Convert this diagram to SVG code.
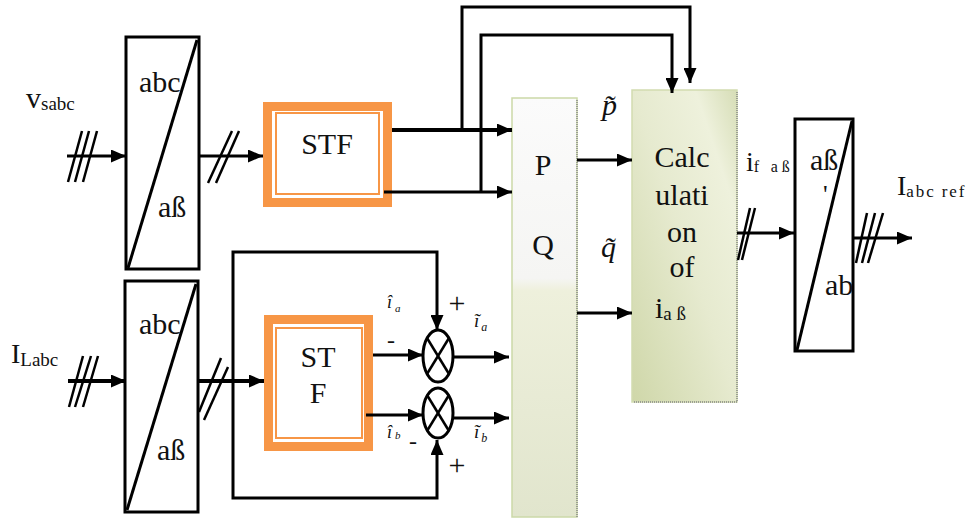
<svg xmlns="http://www.w3.org/2000/svg" width="969" height="519" viewBox="0 0 969 519">
<style>
.ln{stroke:#000;stroke-width:3;fill:none}
.th{stroke:#000;stroke-width:4;fill:none}
.sl{stroke:#000;stroke-width:2.5;fill:none}
.box{stroke:#000;stroke-width:3;fill:#fff}
.t{font-family:"Liberation Serif","Times New Roman",serif;fill:#111}
.big{font-size:30px}
.sub{font-size:19px}
.it{font-style:italic}
.or{fill:none;stroke:#f79646}
</style>
<defs>
<marker id="ar" markerUnits="userSpaceOnUse" markerWidth="15" markerHeight="13" refX="15" refY="6.5" orient="auto">
<path d="M0,0 L15,6.5 L0,13 z" fill="#000"/>
</marker>
<linearGradient id="gpq" x1="0" y1="0" x2="0" y2="1">
<stop offset="0" stop-color="#fbfbfb"/>
<stop offset="0.43" stop-color="#f5f5f3"/>
<stop offset="0.46" stop-color="#eef0dc"/>
<stop offset="1" stop-color="#e1e5cd"/>
</linearGradient>
<linearGradient id="gc" x1="0" y1="1" x2="1" y2="0">
<stop offset="0" stop-color="#cfd7a9"/>
<stop offset="0.5" stop-color="#e6eacf"/>
<stop offset="0.8" stop-color="#eef1dc"/>
<stop offset="1" stop-color="#d6ddb6"/>
</linearGradient>
</defs>

<g id="conv1">
<rect class="box" x="126" y="37" width="73" height="232"/>
<line class="ln" x1="197" y1="40" x2="128" y2="268"/>
<text class="t big" x="139" y="92">abc</text>
<text class="t big" x="158" y="217">aß</text>
</g>

<g id="conv2">
<rect class="box" x="125" y="281" width="73" height="231"/>
<line class="ln" x1="196" y1="284" x2="127" y2="510"/>
<text class="t big" x="139" y="334">abc</text>
<text class="t big" x="157" y="460">aß</text>
</g>

<g id="conv3">
<rect class="box" x="795" y="119" width="58" height="232"/>
<line class="ln" x1="852" y1="121" x2="797" y2="350"/>
<text class="t big" x="810" y="170">aß</text>
<text class="t" font-size="26" x="823" y="203">'</text>
<text class="t big" x="825" y="295">ab</text>
</g>

<g id="stf1">
<rect class="or" x="267.5" y="106.5" width="120" height="96" stroke-width="9" fill="#fff"/>
<rect class="or" x="276" y="113" width="103" height="81" stroke-width="2"/>
<text class="t big" x="327" y="154" text-anchor="middle">STF</text>
</g>

<g id="stf2">
<rect class="or" x="268.5" y="319.5" width="100" height="127" stroke-width="9" fill="#fff"/>
<rect class="or" x="276" y="328" width="86" height="110" stroke-width="2"/>
<text class="t big" x="318" y="367" text-anchor="middle">ST</text>
<text class="t big" x="318" y="403" text-anchor="middle">F</text>
</g>

<g id="pq">
<rect x="512" y="98" width="65" height="419" fill="url(#gpq)" stroke="#cbd9a8" stroke-width="1.5"/>
<line x1="577" y1="100" x2="577" y2="517" stroke="#888" stroke-width="1.5" stroke-dasharray="1,1"/>
<text class="t big" x="543" y="175" text-anchor="middle">P</text>
<text class="t big" x="543" y="255" text-anchor="middle">Q</text>
</g>

<g id="calc">
<rect x="632" y="90" width="105" height="312" fill="url(#gc)" stroke="#d2dcb0" stroke-width="1.5"/>
<path d="M737,92 V402 H634" fill="none" stroke="#888" stroke-width="1.5" stroke-dasharray="1,1"/>
<text class="t big" x="682" y="167" text-anchor="middle">Calc</text>
<text class="t big" x="682" y="205" text-anchor="middle">ulati</text>
<text class="t big" x="682" y="242" text-anchor="middle">on</text>
<text class="t big" x="682" y="277" text-anchor="middle">of</text>
<text class="t big" x="655" y="318">i<tspan class="sub" dy="2">a ß</tspan></text>
</g>

<g id="sum-a">
<ellipse cx="438" cy="356" rx="15" ry="26" fill="#fff" stroke="#000" stroke-width="3"/>
<line class="sl" x1="427" y1="338" x2="449" y2="374"/>
<line class="sl" x1="449" y1="338" x2="427" y2="374"/>
</g>

<g id="sum-b">
<ellipse cx="438" cy="413" rx="15" ry="25" fill="#fff" stroke="#000" stroke-width="3"/>
<line class="sl" x1="427" y1="395" x2="449" y2="431"/>
<line class="sl" x1="449" y1="395" x2="427" y2="431"/>
</g>

<g id="connectors">
<line class="ln" x1="67" y1="156" x2="126" y2="156" marker-end="url(#ar)"/>
<line class="ln" x1="199" y1="156" x2="263" y2="156" marker-end="url(#ar)"/>
<line class="th" x1="392" y1="130" x2="512" y2="130" marker-end="url(#ar)"/>
<line class="ln" x1="384" y1="192" x2="512" y2="192" marker-end="url(#ar)"/>
<polyline class="ln" points="462,130 462,7 690,7 690,83" marker-end="url(#ar)"/>
<polyline class="ln" points="481,192 481,35 672,35 672,93" marker-end="url(#ar)"/>
<line class="ln" x1="577" y1="160" x2="632" y2="160" marker-end="url(#ar)"/>
<line class="ln" x1="577" y1="313" x2="632" y2="313" marker-end="url(#ar)"/>
<line class="ln" x1="737" y1="233" x2="794" y2="233" marker-end="url(#ar)"/>
<line class="ln" x1="853" y1="238" x2="912" y2="238" marker-end="url(#ar)"/>

<line class="th" x1="68" y1="381" x2="126" y2="381" marker-end="url(#ar)"/>
<line class="th" x1="198" y1="381" x2="264" y2="381" marker-end="url(#ar)"/>
<polyline class="ln" points="233,381 233,252 437,252 437,330" marker-end="url(#ar)"/>
<polyline class="ln" points="233,381 233,498 437,498 437,440" marker-end="url(#ar)"/>
<line class="ln" x1="373" y1="355" x2="423" y2="355" marker-end="url(#ar)"/>
<line class="ln" x1="366" y1="415" x2="423" y2="415" marker-end="url(#ar)"/>
<line class="ln" x1="453" y1="357" x2="509" y2="357" marker-end="url(#ar)"/>
<line class="ln" x1="453" y1="418" x2="509" y2="418" marker-end="url(#ar)"/>

<g class="sl">
<line x1="68" y1="182" x2="82" y2="131"/>
<line x1="75" y1="182" x2="89" y2="131"/>
<line x1="83" y1="182" x2="97" y2="131"/>
<line x1="208" y1="183" x2="232" y2="131"/>
<line x1="216" y1="183" x2="239" y2="131"/>
<line x1="69" y1="407" x2="83" y2="356"/>
<line x1="75" y1="407" x2="91" y2="356"/>
<line x1="83" y1="407" x2="98" y2="356"/>
<line x1="199" y1="412" x2="221" y2="358"/>
<line x1="204" y1="420" x2="228" y2="367"/>
<line x1="738" y1="260" x2="750" y2="208"/>
<line x1="742" y1="260" x2="755" y2="208"/>
<line x1="856" y1="263" x2="867" y2="213"/>
<line x1="862" y1="263" x2="875" y2="213"/>
<line x1="868" y1="263" x2="883" y2="213"/>
</g>
</g>

<g id="labels">
<text class="t" font-size="30" x="26" y="108">v<tspan class="sub" dy="2">sabc</tspan></text>
<text class="t" font-size="28" x="11" y="363">I<tspan class="sub" font-size="20" dy="3">Labc</tspan></text>
<text class="t" font-size="28" x="746" y="171">i<tspan font-size="16" dy="1" textLength="36">f aß</tspan></text>
<text class="t" font-size="28" x="897" y="195">I<tspan font-size="17" dy="2" textLength="58">abc ref</tspan></text>

<text class="t it" font-size="30" x="602" y="115">p̃</text>
<text class="t it" font-size="30" x="601" y="257">q̃</text>

<text class="t it" font-size="18" x="387" y="308">î<tspan font-size="11" dy="4" dx="3">a</tspan></text>
<text class="t it" font-size="18" x="387" y="438">î<tspan font-size="11" dy="1" dx="3">b</tspan></text>
<text class="t it" font-size="19" x="474" y="327">ĩ<tspan font-size="12" dy="4" dx="2">a</tspan></text>
<text class="t it" font-size="19" x="474" y="438">ĩ<tspan font-size="12" dy="4" dx="2">b</tspan></text>
<text class="t" font-size="30" x="457" y="313" text-anchor="middle">+</text>
<text class="t" font-size="30" x="457" y="475" text-anchor="middle">+</text>
<text class="t" font-size="24" x="391" y="348" text-anchor="middle">-</text>
<text class="t" font-size="24" x="413" y="449" text-anchor="middle">-</text>
</g>
</svg>
